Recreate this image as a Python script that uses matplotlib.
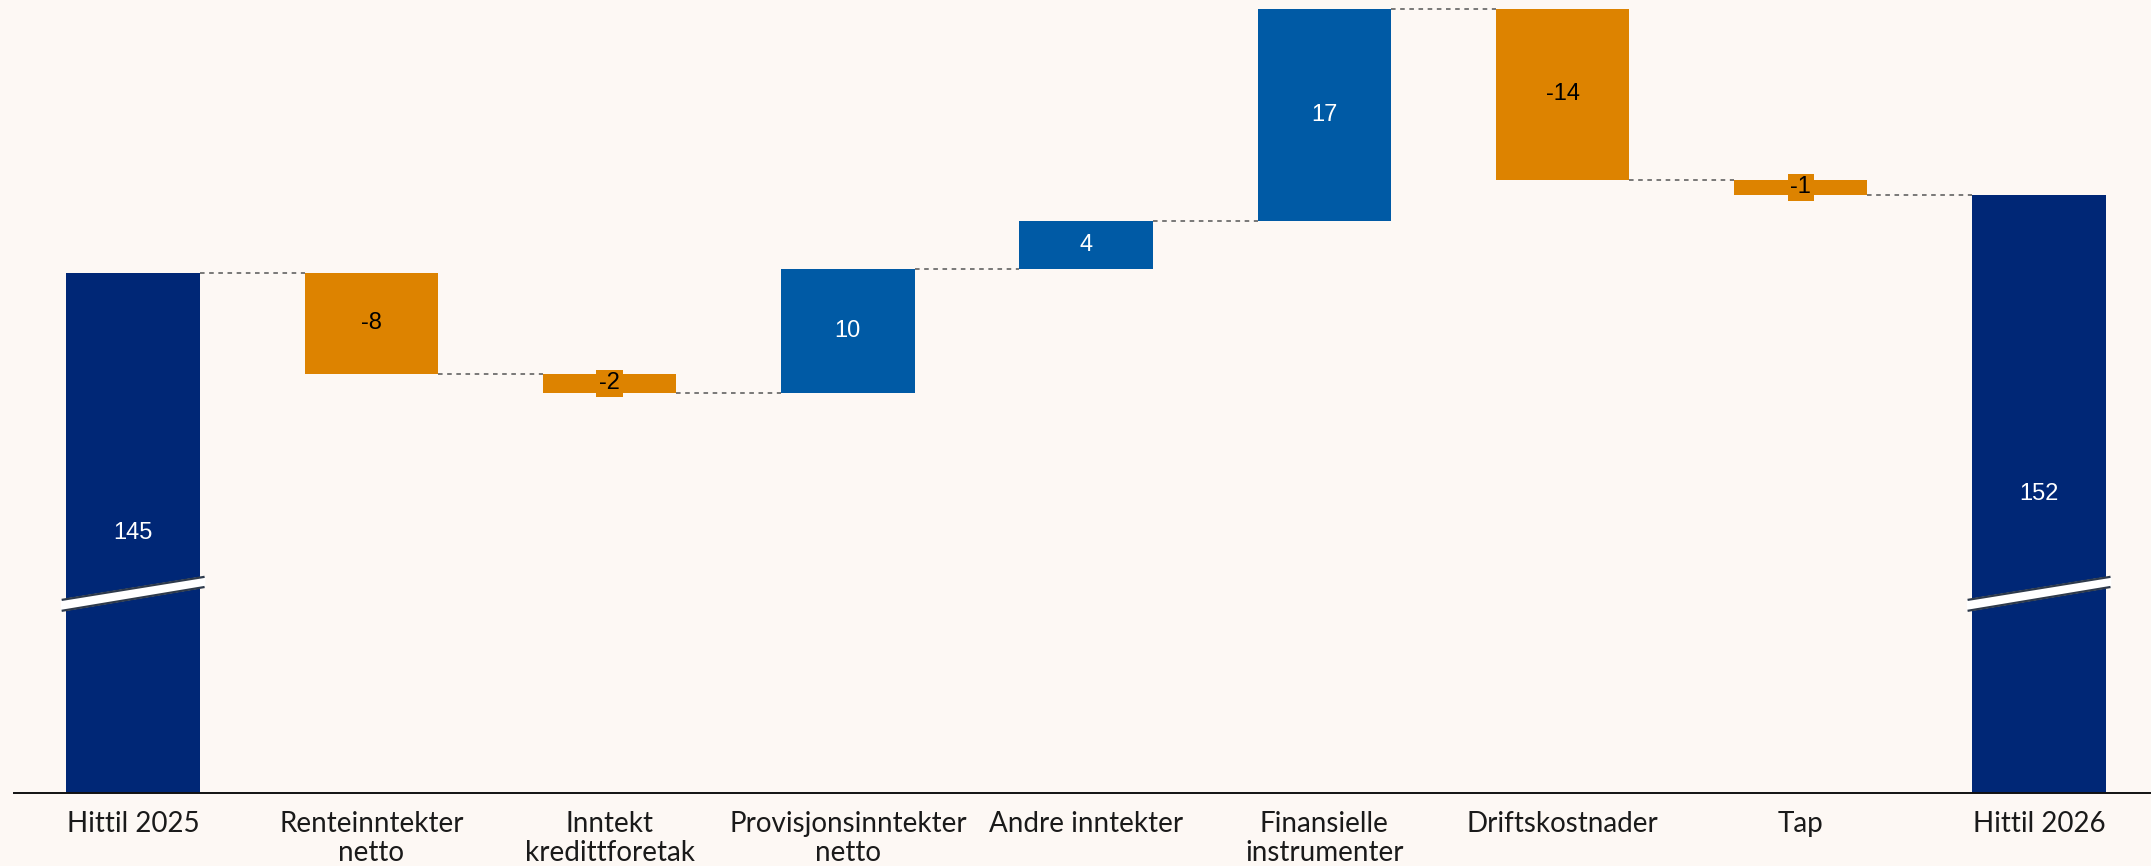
import numpy as np
import matplotlib
matplotlib.use("Agg")
import matplotlib.pyplot as plt

# ---------------- data ----------------
categories = ["Hittil 2025", "Renteinntekter\nnetto", "Inntekt\nkredittforetak",
              "Provisjonsinntekter\nnetto", "Andre inntekter", "Finansielle\ninstrumenter",
              "Driftskostnader", "Tap", "Hittil 2026"]
start_value = 145.3
changes = [-8.1, -1.6, 10.0, 3.9, 17.1, -13.8, -1.2]

# ---------------- style ----------------
BG = "#FDF8F4"
NAVY = "#002776"
BLUE = "#005AA5"
ORANGE = "#DD8300"
Y_LOW, Y_HIGH = 103.4, 167.3
BAR_W = 0.56
NUM_FONT = ['Liberation Sans', 'DejaVu Sans']

plt.rcParams['font.family'] = ['Lato', 'DejaVu Sans']

fig = plt.figure(figsize=(21.51, 8.66), dpi=100, facecolor=BG)
ax = fig.add_axes([14 / 2151, 1 - 793 / 866, 1 - 14 / 2151, 793 / 866])
ax.set_facecolor(BG)

end_value = start_value + sum(changes)
levels = [start_value]
for c in changes:
    levels.append(levels[-1] + c)

x = np.arange(len(categories))

# start and end totals (clipped by the broken axis)
for xi, val in [(x[0], start_value), (x[-1], end_value)]:
    ax.bar(xi, val, width=BAR_W, color=NAVY, zorder=2)
    ax.text(xi, (Y_LOW + val) / 2, f"{val:.0f}", ha="center", va="center",
            color="white", fontsize=17, family=NUM_FONT, zorder=5)
    # axis break mark
    xl, xr = xi - BAR_W / 2 - 0.02, xi + BAR_W / 2 + 0.02
    up = [118.96, 120.82]
    lo = [118.08, 120.0]
    ax.fill([xl, xr, xr, xl], [up[0], up[1], lo[1], lo[0]], color="white", zorder=3)
    ax.plot([xl, xr], up, color="#2E3A4B", lw=1.6, zorder=4, solid_capstyle="butt")
    ax.plot([xl, xr], lo, color="#2E3A4B", lw=1.6, zorder=4, solid_capstyle="butt")

# change bars
for i, c in enumerate(changes):
    xi = x[i + 1]
    bottom = levels[i] if c >= 0 else levels[i + 1]
    col = BLUE if c >= 0 else ORANGE
    ax.bar(xi, abs(c), bottom=bottom, width=BAR_W, color=col, zorder=2)
    mid = bottom + abs(c) / 2
    if c >= 0:
        ax.text(xi, mid, f"{c:.0f}", ha="center", va="center", color="white",
                fontsize=17, family=NUM_FONT, zorder=5)
    else:
        ax.text(xi, mid, f"{c:.0f}", ha="center", va="center", color="black",
                fontsize=17, family=NUM_FONT, zorder=5,
                bbox=dict(boxstyle="square,pad=0.12", facecolor=ORANGE, edgecolor="none"))

# dashed connectors
for i in range(len(categories) - 1):
    lvl = levels[i] if i < len(levels) else end_value
    ax.plot([x[i] + BAR_W / 2, x[i + 1] - BAR_W / 2], [lvl, lvl],
            color="#555555", lw=1.1, ls=(0, (3, 3)), zorder=1)

ax.set_xlim(-0.5, 8.47)
ax.set_ylim(Y_LOW, Y_HIGH)
ax.set_xticks(x)
ax.set_xticklabels(categories, fontsize=20, color="#1A1A1A", linespacing=1.15)
ax.tick_params(axis="x", length=0, pad=13)
ax.set_yticks([])
for s in ["top", "right", "left"]:
    ax.spines[s].set_visible(False)
ax.spines["bottom"].set_color("#111111")
ax.spines["bottom"].set_linewidth(1.4)

fig.savefig("out.png", dpi=100, facecolor=BG)
